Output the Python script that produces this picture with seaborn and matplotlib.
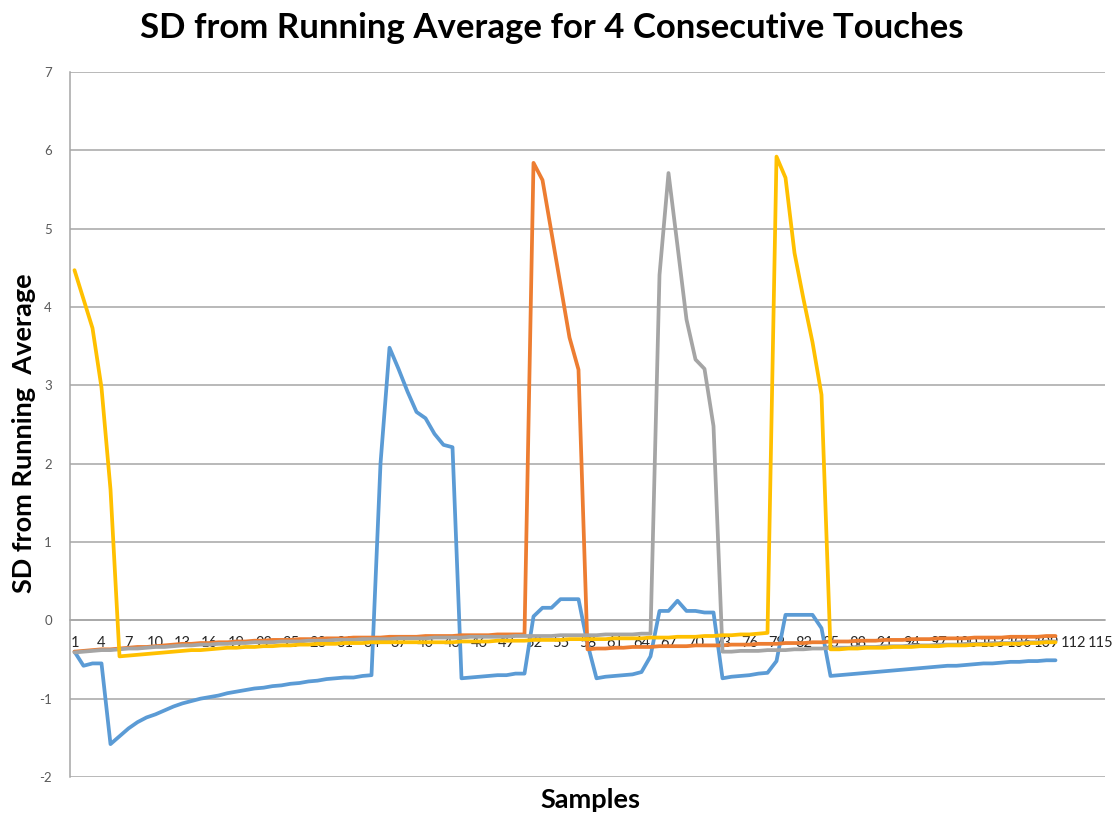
import numpy as np
import pandas as pd
import matplotlib
matplotlib.use("Agg")
import matplotlib.pyplot as plt
import seaborn as sns

# ---- data ----
samples = list(range(1, 111))

touch1 = [-0.40, -0.58, -0.55, -0.55, -1.58, -1.48, -1.38, -1.30, -1.24, -1.20,
          -1.15, -1.10, -1.06, -1.03, -1.00, -0.98, -0.96, -0.93, -0.91, -0.89,
          -0.87, -0.86, -0.84, -0.83, -0.81, -0.80, -0.78, -0.77, -0.75, -0.74,
          -0.73, -0.73, -0.71, -0.70, 2.00, 3.48, 3.21, 2.92, 2.66, 2.58,
          2.38, 2.24, 2.21, -0.74, -0.73, -0.72, -0.71, -0.70, -0.70, -0.68,
          -0.68, 0.05, 0.16, 0.16, 0.27, 0.27, 0.27, -0.30, -0.74, -0.72,
          -0.71, -0.70, -0.69, -0.66, -0.46, 0.12, 0.12, 0.25, 0.12, 0.12,
          0.10, 0.10, -0.74, -0.72, -0.71, -0.70, -0.68, -0.67, -0.52, 0.07,
          0.07, 0.07, 0.07, -0.10, -0.71, -0.70, -0.69, -0.68, -0.67, -0.66,
          -0.65, -0.64, -0.63, -0.62, -0.61, -0.60, -0.59, -0.58, -0.58, -0.57,
          -0.56, -0.55, -0.55, -0.54, -0.53, -0.53, -0.52, -0.52, -0.51, -0.51]

touch2 = [-0.40, -0.39, -0.38, -0.37, -0.37, -0.36, -0.35, -0.34, -0.34, -0.33,
          -0.32, -0.31, -0.30, -0.30, -0.29, -0.29, -0.28, -0.28, -0.27, -0.27,
          -0.26, -0.26, -0.25, -0.25, -0.25, -0.24, -0.24, -0.24, -0.23, -0.23,
          -0.23, -0.22, -0.22, -0.22, -0.22, -0.21, -0.21, -0.21, -0.21, -0.20,
          -0.20, -0.20, -0.20, -0.19, -0.19, -0.19, -0.19, -0.18, -0.18, -0.18,
          -0.18, 5.84, 5.62, 4.95, 4.28, 3.61, 3.20, -0.37, -0.36, -0.36,
          -0.35, -0.35, -0.34, -0.34, -0.34, -0.33, -0.33, -0.33, -0.33, -0.32,
          -0.32, -0.32, -0.32, -0.31, -0.31, -0.31, -0.30, -0.30, -0.30, -0.29,
          -0.29, -0.29, -0.28, -0.28, -0.27, -0.27, -0.27, -0.26, -0.26, -0.26,
          -0.25, -0.25, -0.25, -0.24, -0.24, -0.24, -0.23, -0.23, -0.23, -0.23,
          -0.22, -0.22, -0.22, -0.22, -0.21, -0.21, -0.21, -0.21, -0.20, -0.20]

touch3 = [-0.41, -0.40, -0.39, -0.38, -0.38, -0.37, -0.36, -0.36, -0.35, -0.34,
          -0.34, -0.33, -0.32, -0.32, -0.31, -0.31, -0.30, -0.30, -0.29, -0.29,
          -0.28, -0.28, -0.28, -0.27, -0.27, -0.27, -0.26, -0.26, -0.26, -0.25,
          -0.25, -0.25, -0.24, -0.24, -0.24, -0.24, -0.23, -0.23, -0.23, -0.23,
          -0.22, -0.22, -0.22, -0.22, -0.21, -0.21, -0.21, -0.21, -0.21, -0.20,
          -0.20, -0.20, -0.20, -0.20, -0.19, -0.19, -0.19, -0.19, -0.19, -0.18,
          -0.18, -0.18, -0.18, -0.17, -0.17, 4.41, 5.71, 4.78, 3.84, 3.33,
          3.21, 2.48, -0.40, -0.40, -0.39, -0.39, -0.39, -0.38, -0.38, -0.38,
          -0.37, -0.37, -0.36, -0.36, -0.35, -0.35, -0.35, -0.34, -0.34, -0.34,
          -0.33, -0.33, -0.33, -0.32, -0.32, -0.32, -0.31, -0.31, -0.31, -0.30,
          -0.30, -0.30, -0.29, -0.29, -0.29, -0.28, -0.28, -0.28, -0.27, -0.27]

touch4 = [4.47, 4.10, 3.73, 2.97, 1.67, -0.46, -0.45, -0.44, -0.43, -0.42,
          -0.41, -0.40, -0.39, -0.38, -0.38, -0.37, -0.36, -0.35, -0.35, -0.34,
          -0.34, -0.33, -0.33, -0.32, -0.32, -0.31, -0.31, -0.30, -0.30, -0.30,
          -0.29, -0.29, -0.29, -0.28, -0.28, -0.28, -0.28, -0.28, -0.28, -0.28,
          -0.28, -0.28, -0.28, -0.27, -0.27, -0.27, -0.27, -0.26, -0.26, -0.26,
          -0.26, -0.25, -0.25, -0.25, -0.25, -0.24, -0.24, -0.24, -0.24, -0.24,
          -0.23, -0.23, -0.23, -0.23, -0.22, -0.22, -0.22, -0.21, -0.21, -0.21,
          -0.20, -0.20, -0.19, -0.19, -0.18, -0.18, -0.17, -0.16, 5.92, 5.65,
          4.69, 4.10, 3.55, 2.88, -0.37, -0.37, -0.36, -0.36, -0.35, -0.35,
          -0.35, -0.34, -0.34, -0.34, -0.33, -0.33, -0.33, -0.32, -0.32, -0.32,
          -0.31, -0.31, -0.31, -0.30, -0.30, -0.30, -0.29, -0.29, -0.28, -0.28]

series_names = ["Touch 1", "Touch 2", "Touch 3", "Touch 4"]
series_colors = ["#5B9BD5", "#ED7D31", "#A5A5A5", "#FFC000"]
x_tick_labels = [str(v) for v in range(1, 116, 3)]
y_ticks = [-2, -1, 0, 1, 2, 3, 4, 5, 6, 7]

title_text = "SD from Running Average for 4 Consecutive Touches"
x_label = "Samples"
y_label = "SD from Running  Average"

# ---- build the long table ----
df = pd.DataFrame({
    "Sample": samples * 4,
    "SD": touch1 + touch2 + touch3 + touch4,
    "Series": sum([[n] * len(samples) for n in series_names], []),
})

sns.set_theme(style="white")
plt.rcParams["font.family"] = ["Lato", "DejaVu Sans"]

fig = plt.figure(figsize=(11.14, 8.16), dpi=100)
ax = fig.add_axes([70 / 1114, 1 - 777 / 816, 1035 / 1114, (777 - 72) / 816])

sns.lineplot(data=df, x="Sample", y="SD", hue="Series",
             palette=dict(zip(series_names, series_colors)),
             linewidth=2.7, legend=False, ax=ax, sort=False)

ax.set_xlim(0.5, 115.5)
ax.set_ylim(-2, 7)
ax.set_yticks(y_ticks)
ax.set_yticklabels([str(v) for v in y_ticks])
ax.set_xticks(list(range(1, 116, 3)))
ax.set_xticklabels(x_tick_labels)

grid_col = "#A6A6A6"
ax.set_axisbelow(True)
ax.yaxis.grid(True, color=grid_col, linewidth=1.1)
ax.xaxis.grid(False)

for s in ["top", "right"]:
    ax.spines[s].set_visible(False)
ax.spines["left"].set_color(grid_col)
ax.spines["left"].set_linewidth(1.1)
ax.spines["bottom"].set_position(("data", 0))
ax.spines["bottom"].set_color(grid_col)
ax.spines["bottom"].set_linewidth(1.1)
ax.spines["bottom"].set_zorder(0.5)
ax.spines["left"].set_zorder(0.5)

ax.tick_params(axis="x", length=0, pad=11.5, labelsize=10.5, labelcolor="#262626")
ax.tick_params(axis="y", length=0, pad=13, labelsize=9.5, labelcolor="#595959")

ax.set_xlabel("")
ax.set_ylabel("")
fig.text(590 / 1114, 1 - 800 / 816, x_label, ha="center", va="center",
         fontsize=19.5, fontweight="bold", color="black")
fig.text(24 / 1114, 1 - 433 / 816, y_label, ha="center", va="center",
         rotation=90, fontsize=19.5, fontweight="bold", color="black")
fig.text(552 / 1114, 1 - 28 / 816, title_text, ha="center", va="center",
         fontsize=25, fontweight="bold", color="black")

fig.savefig("out.png", dpi=100)
